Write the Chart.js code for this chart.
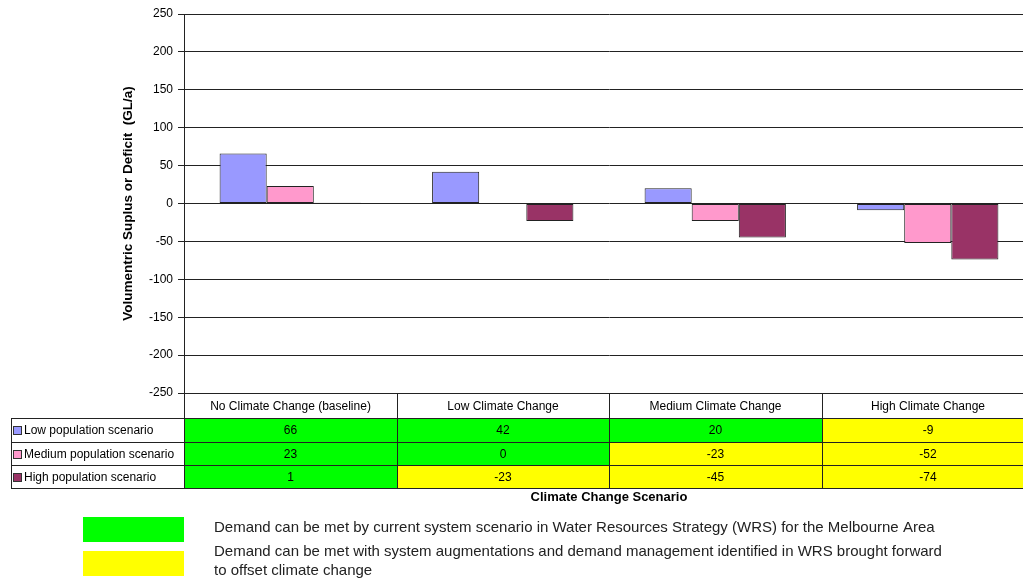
<!DOCTYPE html>
<html>
<head>
<meta charset="utf-8">
<title>Volumetric surplus or deficit by climate change scenario</title>
<script src="https://cdn.jsdelivr.net/npm/chart.js@4/dist/chart.umd.min.js"></script>
<style>
    html, body { margin: 0; padding: 0; background: #fff; overflow: hidden; }
    #wrap { position: relative; width: 1040px; height: 579px; }
</style>
</head>
<body>
<div id="wrap"><canvas id="surplusChart"></canvas></div>
<script>
// Chart data
const scenarios = ['No Climate Change (baseline)', 'Low Climate Change', 'Medium Climate Change', 'High Climate Change'];
const seriesNames = ['Low population scenario', 'Medium population scenario', 'High population scenario'];
const lowPop = [66, 42, 20, -9];
const mediumPop = [23, 0, -23, -52];
const highPop = [1, -23, -45, -74];
const seriesColors = ['#9999FF', '#FF99CC', '#993366'];

// Bottom key
const keyColors = ['#00FF00', '#FFFF00'];
const keyTexts = [
    ['Demand can be met by current system scenario in Water Resources Strategy (WRS) for the Melbourne Area'],
    ['Demand can be met with system augmentations and demand management identified in WRS brought forward', 'to offset climate change']
];

const FONT = "'Liberation Sans', Arial, sans-serif";
const LINE = '#222';

// Draws the data table under the plot and the colour key
const dataTable = {
    id: 'dataTable',
    afterDraw(chart) {
        const ctx = chart.ctx;
        const xs = chart.scales.x;
        const top = chart.chartArea.bottom;
        const n = scenarios.length;
        const catW = xs.width / n;
        const edges = [];
        for (let i = 0; i <= n; i++) edges.push(Math.round(xs.left + i * catW));
        const rows = [top, top + 25, top + 49, top + 72, top + 95];
        const labelLeft = 11;
        const values = [lowPop, mediumPop, highPop];

        ctx.save();
        // cell fills: green when met now, yellow when augmentation needed
        values.forEach((row, r) => {
            row.forEach((v, c) => {
                ctx.fillStyle = v >= 0 ? keyColors[0] : keyColors[1];
                ctx.fillRect(edges[c], rows[r + 1], edges[c + 1] - edges[c], rows[r + 2] - rows[r + 1]);
            });
        });

        // grid lines of the table
        ctx.strokeStyle = LINE;
        ctx.lineWidth = 1;
        ctx.beginPath();
        for (let r = 1; r < rows.length; r++) {
            ctx.moveTo(labelLeft, rows[r] + 0.5);
            ctx.lineTo(edges[n] + 1, rows[r] + 0.5);
        }
        ctx.moveTo(labelLeft + 0.5, rows[1]);
        ctx.lineTo(labelLeft + 0.5, rows[4] + 1);
        edges.forEach(e => {
            ctx.moveTo(e + 0.5, top);
            ctx.lineTo(e + 0.5, rows[4] + 1);
        });
        ctx.stroke();

        // header and values
        ctx.fillStyle = '#000';
        ctx.font = '12px ' + FONT;
        ctx.textAlign = 'center';
        ctx.textBaseline = 'middle';
        scenarios.forEach((s, c) => {
            ctx.fillText(s, (edges[c] + edges[c + 1]) / 2, (rows[0] + rows[1]) / 2 + 1);
        });
        values.forEach((row, r) => {
            row.forEach((v, c) => {
                ctx.fillText(String(v), (edges[c] + edges[c + 1]) / 2, (rows[r + 1] + rows[r + 2]) / 2 + 1);
            });
        });

        // row labels with series markers
        ctx.textAlign = 'left';
        seriesNames.forEach((name, r) => {
            const cy = Math.round((rows[r + 1] + rows[r + 2]) / 2);
            ctx.fillStyle = seriesColors[r];
            ctx.fillRect(14, cy - 3, 7, 7);
            ctx.strokeStyle = '#333';
            ctx.strokeRect(13.5, cy - 3.5, 8, 8);
            ctx.fillStyle = '#000';
            ctx.fillText(name, 24, cy + 1);
        });

        // colour key
        const keyTop = [517, 551];
        ctx.font = '15px ' + FONT;
        keyColors.forEach((col, k) => {
            ctx.fillStyle = col;
            ctx.fillRect(83, keyTop[k], 101, 25);
        });
        ctx.fillStyle = '#222';
        ctx.fillText(keyTexts[0][0], 214, 528);
        ctx.fillText(keyTexts[1][0], 214, 552);
        ctx.fillText(keyTexts[1][1], 214, 571);
        ctx.restore();
    }
};

const ctx = document.getElementById('surplusChart').getContext('2d');
const surplusChart = new Chart(ctx, {
    type: 'bar',
    data: {
        labels: scenarios,
        datasets: [{
            label: seriesNames[0],
            data: lowPop,
            backgroundColor: seriesColors[0]
        }, {
            label: seriesNames[1],
            data: mediumPop,
            backgroundColor: seriesColors[1]
        }, {
            label: seriesNames[2],
            data: highPop,
            backgroundColor: seriesColors[2]
        }]
    },
    options: {
        responsive: true,
        maintainAspectRatio: false,
        animation: false,
        layout: { padding: { left: 115, top: 14, right: 6, bottom: 0 } },
        datasets: {
            bar: {
                borderColor: LINE,
                borderWidth: 1,
                borderSkipped: false,
                categoryPercentage: 0.665,
                barPercentage: 1
            }
        },
        plugins: {
            legend: { display: false },
            tooltip: { enabled: false }
        },
        scales: {
            x: {
                ticks: { display: false },
                grid: { display: false },
                border: { display: false },
                title: {
                    display: true,
                    text: 'Climate Change Scenario',
                    color: '#000',
                    font: { family: FONT, size: 13, weight: 'bold' },
                    padding: { top: 0, bottom: 74 }
                },
                afterFit(scale) { scale.height = 186; }
            },
            y: {
                min: -250,
                max: 250,
                ticks: {
                    stepSize: 50,
                    color: '#000',
                    padding: 5,
                    font: { family: FONT, size: 12 }
                },
                grid: { color: LINE, tickColor: LINE, tickLength: 6 },
                border: { color: LINE },
                title: {
                    display: true,
                    text: 'Volumentric Suplus or Deficit  (GL/a)',
                    color: '#000',
                    font: { family: FONT, size: 13.5, weight: 'bold' },
                    padding: { top: 5, bottom: 0 }
                },
                afterFit(scale) { scale.width = 69; }
            }
        }
    },
    plugins: [dataTable]
});
</script>
</body>
</html>
